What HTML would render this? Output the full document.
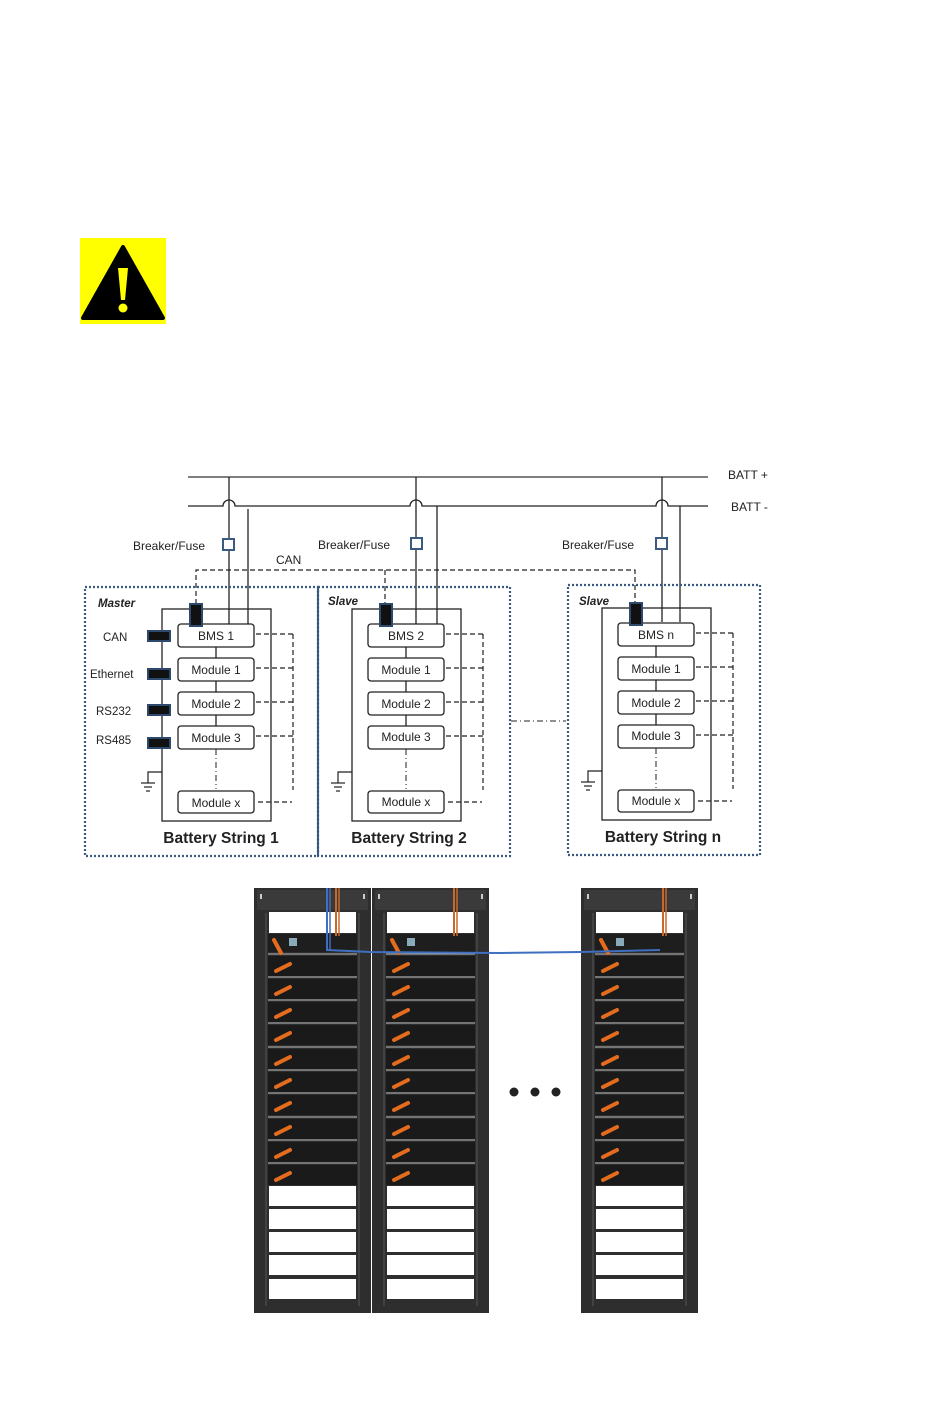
<!DOCTYPE html>
<html><head><meta charset="utf-8"><style>
html,body{margin:0;padding:0;background:#fff;width:950px;height:1419px;overflow:hidden}
svg{display:block}
text{font-family:"Liberation Sans",sans-serif;fill:#222}
</style></head><body>
<svg width="950" height="1419" viewBox="0 0 950 1419" xmlns="http://www.w3.org/2000/svg">
<defs>
<g id="str">
  <rect x="162" y="609" width="109" height="212" fill="none" stroke="#222" stroke-width="1.3"/>
  <line x1="216" y1="647" x2="216" y2="726" stroke="#222" stroke-width="1.3"/>
  <line x1="216" y1="749" x2="216" y2="789" stroke="#222" stroke-width="1" stroke-dasharray="6,3,1,3"/>
  <rect x="178" y="624" width="76" height="23" rx="3" fill="#fff" stroke="#222" stroke-width="1.3"/>
  <rect x="178" y="658" width="76" height="23" rx="3" fill="#fff" stroke="#222" stroke-width="1.3"/>
  <rect x="178" y="692" width="76" height="23" rx="3" fill="#fff" stroke="#222" stroke-width="1.3"/>
  <rect x="178" y="726" width="76" height="23" rx="3" fill="#fff" stroke="#222" stroke-width="1.3"/>
  <rect x="178" y="791" width="76" height="22" rx="3" fill="#fff" stroke="#222" stroke-width="1.3"/>
  <g stroke="#222" stroke-width="1.2" stroke-dasharray="5,3" fill="none">
    <line x1="256" y1="634" x2="293" y2="634"/>
    <line x1="256" y1="668" x2="293" y2="668"/>
    <line x1="256" y1="702" x2="293" y2="702"/>
    <line x1="256" y1="736" x2="293" y2="736"/>
    <line x1="258" y1="802" x2="292" y2="802"/>
    <line x1="293" y1="634" x2="293" y2="790"/>
  </g>
  <polyline points="162,772 148,772 148,783" fill="none" stroke="#222" stroke-width="1.2"/>
  <line x1="141" y1="783" x2="155" y2="783" stroke="#222" stroke-width="1.2"/>
  <line x1="144" y1="787" x2="152" y2="787" stroke="#222" stroke-width="1.2"/>
  <line x1="146" y1="791" x2="150" y2="791" stroke="#222" stroke-width="1.2"/>
  <rect x="190" y="604" width="12" height="22" fill="#111" stroke="#2d4a6e" stroke-width="2"/>
</g>
<g id="rack">
  <rect x="0" y="0" width="117" height="425" fill="#2e2e2e"/>
  <rect x="3" y="2" width="111" height="20" fill="#3a3a3a"/>
  <rect x="6" y="6" width="2" height="5" fill="#ccc"/><rect x="109" y="6" width="2" height="5" fill="#ccc"/>
  <line x1="12" y1="25" x2="12" y2="418" stroke="#555"/>
  <line x1="105" y1="25" x2="105" y2="418" stroke="#555"/>
  <rect x="15" y="24" width="87" height="21" fill="#fff"/>
  <rect x="14" y="46" width="89" height="18" fill="#1e1e1e"/>
  <rect x="35" y="50" width="8" height="8" fill="#8ab"/>
  <rect x="14" y="68" width="89" height="20" fill="#1a1a1a"/>
  <rect x="14" y="91" width="89" height="20" fill="#1a1a1a"/>
  <rect x="14" y="114" width="89" height="20" fill="#1a1a1a"/>
  <rect x="14" y="137" width="89" height="20" fill="#1a1a1a"/>
  <rect x="14" y="161" width="89" height="20" fill="#1a1a1a"/>
  <rect x="14" y="184" width="89" height="20" fill="#1a1a1a"/>
  <rect x="14" y="207" width="89" height="20" fill="#1a1a1a"/>
  <rect x="14" y="231" width="89" height="20" fill="#1a1a1a"/>
  <rect x="14" y="254" width="89" height="20" fill="#1a1a1a"/>
  <rect x="14" y="277" width="89" height="20" fill="#1a1a1a"/>
  <g stroke="#bbb" stroke-width="1">
    <line x1="14" y1="66" x2="103" y2="66"/><line x1="14" y1="89" x2="103" y2="89"/><line x1="14" y1="112" x2="103" y2="112"/>
    <line x1="14" y1="135" x2="103" y2="135"/><line x1="14" y1="159" x2="103" y2="159"/><line x1="14" y1="182" x2="103" y2="182"/>
    <line x1="14" y1="205" x2="103" y2="205"/><line x1="14" y1="229" x2="103" y2="229"/><line x1="14" y1="252" x2="103" y2="252"/>
    <line x1="14" y1="275" x2="103" y2="275"/>
  </g>
  <g stroke="#e36c1e" stroke-width="4" stroke-linecap="round">
    <line x1="20" y1="52" x2="27" y2="65"/>
    <line x1="22" y1="83" x2="36" y2="76"/><line x1="22" y1="106" x2="36" y2="99"/><line x1="22" y1="129" x2="36" y2="122"/>
    <line x1="22" y1="152" x2="36" y2="145"/><line x1="22" y1="176" x2="36" y2="169"/><line x1="22" y1="199" x2="36" y2="192"/>
    <line x1="22" y1="222" x2="36" y2="215"/><line x1="22" y1="246" x2="36" y2="239"/><line x1="22" y1="269" x2="36" y2="262"/>
    <line x1="22" y1="292" x2="36" y2="285"/>
  </g>
  <line x1="82" y1="0" x2="82" y2="48" stroke="#c8692a" stroke-width="2"/>
  <line x1="85" y1="0" x2="85" y2="48" stroke="#c8692a" stroke-width="1.5"/>
  <rect x="15" y="298" width="87" height="20" fill="#fff"/>
  <rect x="15" y="321" width="87" height="20" fill="#fff"/>
  <rect x="15" y="344" width="87" height="20" fill="#fff"/>
  <rect x="15" y="367" width="87" height="20" fill="#fff"/>
  <rect x="15" y="391" width="87" height="20" fill="#fff"/>
</g>
</defs>

<!-- warning icon -->
<rect x="80" y="238" width="86" height="86" fill="#ffff00"/>
<path d="M123 247 L163 318 L83 318 Z" fill="#000" stroke="#000" stroke-width="4" stroke-linejoin="round"/>
<path d="M118 268 L128 268 L125 300 L121 300 Z" fill="#ffff00"/>
<circle cx="123" cy="308" r="4.5" fill="#ffff00"/>

<!-- bus lines -->
<line x1="188" y1="477" x2="708" y2="477" stroke="#333" stroke-width="1.3"/>
<path d="M188 506 H223 A6 6 0 0 1 235 506 H410 A6 6 0 0 1 422 506 H656 A6 6 0 0 1 668 506 H708" fill="none" stroke="#222" stroke-width="1.3"/>
<text x="728" y="479" font-size="12">BATT +</text>
<text x="731" y="511" font-size="12">BATT -</text>
<g stroke="#222" stroke-width="1.3">
  <line x1="229" y1="477" x2="229" y2="624"/><line x1="248" y1="509" x2="248" y2="624"/>
  <line x1="416" y1="477" x2="416" y2="624"/><line x1="437" y1="506" x2="437" y2="624"/>
  <line x1="662" y1="477" x2="662" y2="622"/><line x1="680" y1="506" x2="680" y2="622"/>
</g>
<g fill="#fff" stroke="#3a5a80" stroke-width="2">
  <rect x="223" y="539" width="11" height="11"/>
  <rect x="411" y="538" width="11" height="11"/>
  <rect x="656" y="538" width="11" height="11"/>
</g>
<text x="133" y="550" font-size="12">Breaker/Fuse</text>
<text x="318" y="549" font-size="12">Breaker/Fuse</text>
<text x="562" y="549" font-size="12">Breaker/Fuse</text>
<text x="276" y="564" font-size="12">CAN</text>
<g stroke="#222" stroke-width="1.2" stroke-dasharray="5,3" fill="none">
  <polyline points="196,604 196,570 635,570 635,603"/>
  <line x1="385" y1="570" x2="385" y2="604"/>
</g>

<!-- outer boxes -->
<g fill="none" stroke="#3a5a80" stroke-width="2.2" stroke-dasharray="2,2">
  <rect x="85" y="587" width="233" height="269"/>
  <rect x="318" y="587" width="192" height="269"/>
  <rect x="568" y="585" width="192" height="270"/>
</g>
<line x1="318" y1="587" x2="318" y2="856" stroke="#3a5a80" stroke-width="2"/>
<line x1="511" y1="721" x2="566" y2="721" stroke="#222" stroke-width="1" stroke-dasharray="6,3,1,3"/>

<use href="#str"/>
<use href="#str" transform="translate(190,0)"/>
<use href="#str" transform="translate(440,-1)"/>

<!-- master interface connectors -->
<g fill="#111" stroke="#2d4a6e" stroke-width="2">
  <rect x="148" y="631" width="22" height="10"/>
  <rect x="148" y="669" width="22" height="10"/>
  <rect x="148" y="705" width="22" height="10"/>
  <rect x="148" y="738" width="22" height="10"/>
</g>

<g font-size="11.5">
<text x="98" y="607" font-weight="bold" font-style="italic">Master</text>
<text x="328" y="605" font-weight="bold" font-style="italic">Slave</text>
<text x="579" y="605" font-weight="bold" font-style="italic">Slave</text>
<text x="103" y="641">CAN</text>
<text x="90" y="678">Ethernet</text>
<text x="96" y="715">RS232</text>
<text x="96" y="744">RS485</text>
</g>
<g font-size="12" text-anchor="middle">
<text x="216" y="640">BMS 1</text><text x="216" y="674">Module 1</text><text x="216" y="708">Module 2</text><text x="216" y="742">Module 3</text><text x="216" y="807">Module x</text>
<text x="406" y="640">BMS 2</text><text x="406" y="674">Module 1</text><text x="406" y="708">Module 2</text><text x="406" y="741">Module 3</text><text x="406" y="806">Module x</text>
<text x="656" y="639">BMS n</text><text x="656" y="673">Module 1</text><text x="656" y="707">Module 2</text><text x="656" y="740">Module 3</text><text x="656" y="805">Module x</text>
</g>
<g font-size="15.5" font-weight="bold" text-anchor="middle">
<text x="221" y="843">Battery String 1</text>
<text x="409" y="843">Battery String 2</text>
<text x="663" y="842">Battery String n</text>
</g>

<!-- racks -->
<use href="#rack" transform="translate(254,888)"/>
<use href="#rack" transform="translate(372,888)"/>
<use href="#rack" transform="translate(581,888)"/>
<polyline points="327,888 327,950 370,952 500,953 581,952 660,950" fill="none" stroke="#3f6fc0" stroke-width="2"/>
<line x1="330" y1="888" x2="330" y2="950" stroke="#3f6fc0" stroke-width="1.5"/>
<circle cx="514" cy="1092" r="4.5" fill="#222"/>
<circle cx="535" cy="1092" r="4.5" fill="#222"/>
<circle cx="556" cy="1092" r="4.5" fill="#222"/>
</svg>
</body></html>
